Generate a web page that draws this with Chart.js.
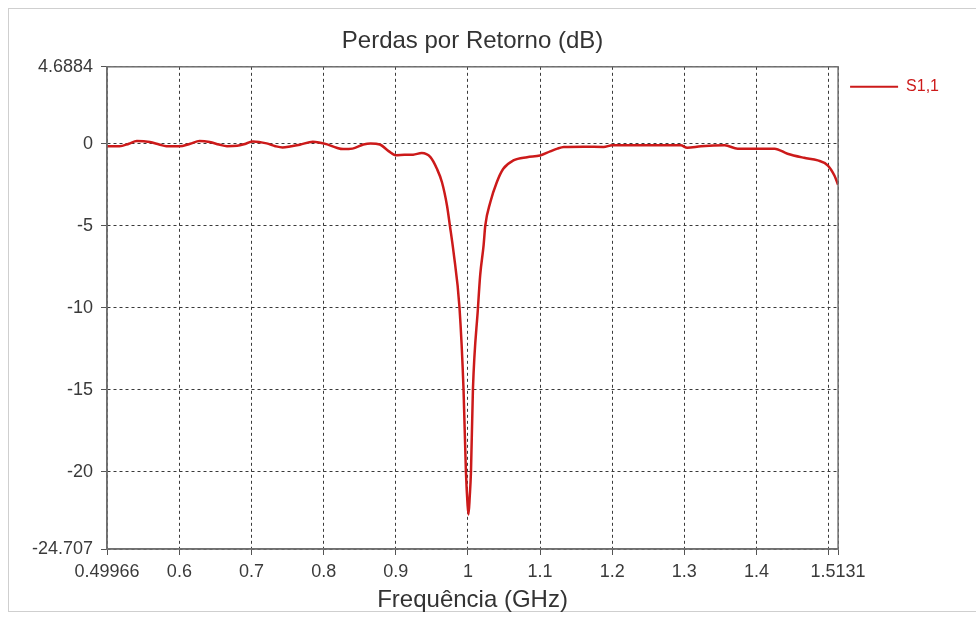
<!DOCTYPE html>
<html>
<head>
<meta charset="utf-8">
<script src="https://cdn.jsdelivr.net/npm/chart.js@4"></script>
<style>
  html, body { margin: 0; padding: 0; background: #ffffff; }
  #wrap { position: relative; width: 976px; height: 617px; overflow: hidden; }
  #frame { position: absolute; left: 8px; top: 8px; width: 1000px; height: 604px; border: 1px solid #cfcfcf; box-sizing: border-box; }
  canvas { position: absolute; left: 0; top: 0; }
</style>
</head>
<body>
<div id="wrap">
  <div id="frame"></div>
  <canvas id="c" width="976" height="617"></canvas>
</div>
<script>
// ---- data ----
const freqGHz = [
  0.49966, 0.517, 0.530, 0.541, 0.559, 0.572, 0.582, 0.600, 0.615, 0.628,
  0.642, 0.655, 0.666, 0.680, 0.692, 0.702, 0.721, 0.733, 0.743, 0.755,
  0.767, 0.785, 0.805, 0.818, 0.827, 0.840, 0.855, 0.865, 0.878, 0.890,
  0.900, 0.912, 0.924, 0.936, 0.948, 0.957, 0.964, 0.971, 0.975, 0.980,
  0.9883, 0.9939, 0.9972, 0.9995, 1.0008, 1.0025, 1.0042, 1.0069, 1.0139, 1.017,
  1.0217, 1.024, 1.031, 1.040, 1.049, 1.063, 1.082, 1.100, 1.114, 1.124,
  1.133, 1.160, 1.188, 1.200, 1.250, 1.295, 1.304, 1.323, 1.356, 1.374,
  1.400, 1.425, 1.443, 1.466, 1.485, 1.499, 1.508, 1.5131
];
const s11dB = [
  -0.15, -0.16, 0.00, 0.16, 0.10, -0.05, -0.15, -0.16, 0.00, 0.16,
  0.10, -0.05, -0.15, -0.13, 0.00, 0.14, 0.02, -0.15, -0.23, -0.15,
  -0.06, 0.12, -0.04, -0.25, -0.33, -0.30, -0.05, 0.02, -0.05, -0.45,
  -0.70, -0.68, -0.67, -0.57, -0.82, -1.53, -2.35, -3.78, -5.0, -6.6,
  -10.0, -15.0, -20.0, -22.0, -22.6, -21.5, -20.0, -15.0, -10.0, -8.0,
  -6.2, -5.0, -3.57, -2.35, -1.53, -1.02, -0.82, -0.72, -0.47, -0.30,
  -0.20, -0.18, -0.20, -0.10, -0.10, -0.10, -0.25, -0.16, -0.10, -0.30,
  -0.30, -0.30, -0.61, -0.86, -1.02, -1.33, -1.94, -2.5
];
const seriesName = 'S1,1';
const xTickValues = [0.49966, 0.6, 0.7, 0.8, 0.9, 1.0, 1.1, 1.2, 1.3, 1.4, 1.5, 1.5131];
const xTickLabels = ['0.49966', '0.6', '0.7', '0.8', '0.9', '1', '1.1', '1.2', '1.3', '1.4', '', '1.5131'];
const yTickValues = [4.6884, 0, -5, -10, -15, -20, -24.707];
const yTickLabels = ['4.6884', '0', '-5', '-10', '-15', '-20', '-24.707'];
const chartTitle = 'Perdas por Retorno (dB)';
const xTitle = 'Frequência (GHz)';

// ---- chart ----
const FONT = "'Liberation Sans', Arial, sans-serif";
const points = freqGHz.map((f, i) => ({ x: f, y: s11dB[i] }));

const boxPlugin = {
  id: 'box',
  afterDatasetsDraw(chart) {
    const a = chart.chartArea, ctx = chart.ctx;
    ctx.save();
    ctx.strokeStyle = '#707070';
    ctx.lineWidth = 1.5;
    ctx.strokeRect(a.left, a.top, a.right - a.left, a.bottom - a.top);
    ctx.restore();
  }
};

new Chart(document.getElementById('c'), {
  type: 'line',
  data: {
    datasets: [{
      label: seriesName,
      data: points,
      borderColor: '#cc1a1a',
      backgroundColor: '#cc1a1a',
      borderWidth: 2.5,
      pointRadius: 0,
      cubicInterpolationMode: 'monotone',
      fill: false
    }]
  },
  options: {
    responsive: false,
    animation: false,
    layout: { padding: { left: 0, right: 27, top: 0, bottom: 0 } },
    plugins: {
      title: {
        display: true,
        text: chartTitle,
        fullSize: false,
        color: '#333333',
        font: { family: FONT, size: 24, weight: 'normal' },
        padding: { top: 27, bottom: 11 }
      },
      legend: {
        display: true,
        position: 'right',
        align: 'start',
        fullSize: false,
        labels: {
          color: '#cc1a1a',
          font: { family: FONT, size: 16 },
          boxWidth: 48,
          boxHeight: 2,
          padding: 12,
          generateLabels(chart) {
            const items = Chart.defaults.plugins.legend.labels.generateLabels(chart);
            items.forEach(it => { it.lineWidth = 0; it.fillStyle = '#cc1a1a'; });
            return items;
          }
        }
      },
      tooltip: { enabled: false }
    },
    scales: {
      x: {
        type: 'linear',
        min: xTickValues[0],
        max: xTickValues[xTickValues.length - 1],
        afterBuildTicks(scale) { scale.ticks = xTickValues.map(v => ({ value: v })); },
        afterFit(scale) { scale.height = 68; },
        ticks: {
          autoSkip: false,
          maxRotation: 0,
          color: '#3a3a3a',
          font: { family: FONT, size: 18 },
          padding: 6,
          callback(value, index) { return xTickLabels[index]; }
        },
        grid: {
          color: '#3a3a3a',
          lineWidth: 1,
          tickLength: 6,
          tickColor: '#555555',
          tickBorderDash: [],
          drawTicks: true
        },
        border: { display: true, color: '#707070', width: 1.5, dash: [3, 3] },
        title: {
          display: true,
          text: xTitle,
          color: '#333333',
          font: { family: FONT, size: 24 },
          padding: { top: 0, bottom: 2 }
        }
      },
      y: {
        type: 'linear',
        min: yTickValues[yTickValues.length - 1],
        max: yTickValues[0],
        afterBuildTicks(scale) { scale.ticks = yTickValues.map(v => ({ value: v })); },
        afterFit(scale) { scale.width = 107; },
        ticks: {
          autoSkip: false,
          color: '#3a3a3a',
          font: { family: FONT, size: 18 },
          padding: 8,
          callback(value, index) { return yTickLabels[index]; }
        },
        grid: {
          color: '#3a3a3a',
          lineWidth: 1,
          tickLength: 6,
          tickColor: '#555555',
          tickBorderDash: [],
          drawTicks: true
        },
        border: { display: true, color: '#707070', width: 1.5, dash: [3, 3] }
      }
    }
  },
  plugins: [boxPlugin]
});
</script>
</body>
</html>
